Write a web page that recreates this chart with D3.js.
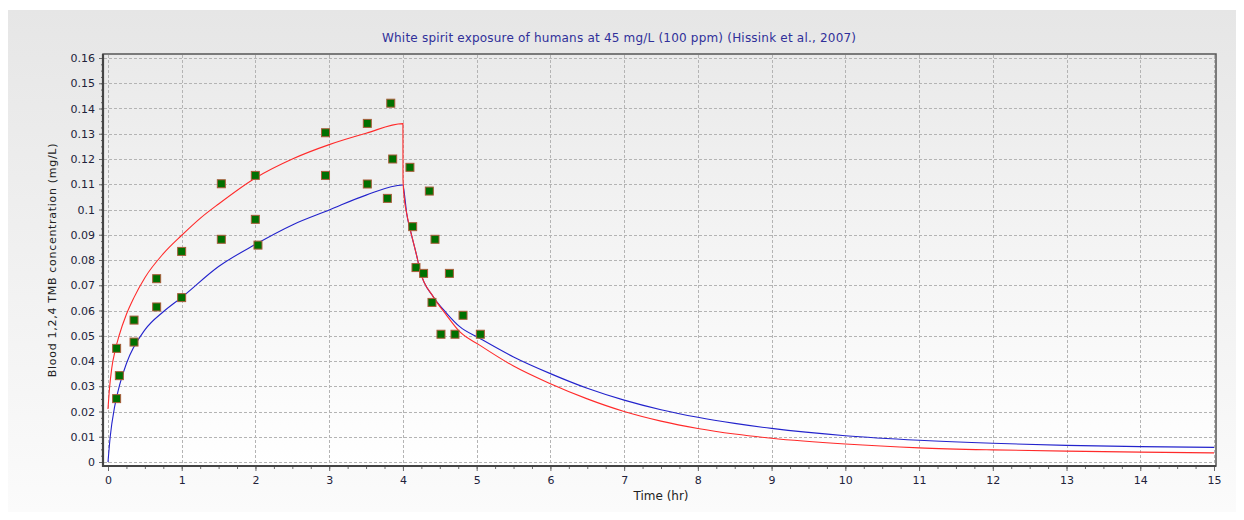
<!DOCTYPE html>
<html>
<head>
<meta charset="utf-8">
<script src="https://cdn.jsdelivr.net/npm/d3@7"></script>
<style>
  html, body { margin: 0; padding: 0; background: #ffffff; }
  svg { display: block; }
  text { font-family: "DejaVu Sans", Verdana, sans-serif; }
</style>
</head>
<body>
<svg id="chart" width="1244" height="520"></svg>
<script>
// ---------- data ----------
const titleText = "White spirit exposure of humans at 45 mg/L (100 ppm) (Hissink et al., 2007)";
const xAxisTitle = "Time (hr)";
const yAxisTitle = "Blood 1,2,4 TMB concentration (mg/L)";

const xTicks = [0,1,2,3,4,5,6,7,8,9,10,11,12,13,14,15];
const xTickLabels = ["0","1","2","3","4","5","6","7","8","9","10","11","12","13","14","15"];
const yTicks = [0,0.01,0.02,0.03,0.04,0.05,0.06,0.07,0.08,0.09,0.1,0.11,0.12,0.13,0.14,0.15,0.16];
const yTickLabels = ["0","0.01","0.02","0.03","0.04","0.05","0.06","0.07","0.08","0.09","0.1","0.11","0.12","0.13","0.14","0.15","0.16"];

// model curve (red)
const redTime = [0,0.02,0.05,0.1,0.15,0.25,0.35,0.5,0.75,1,1.25,1.5,2,2.5,3,3.5,4,
                 4.001,4.02,4.05,4.1,4.2,4.23,4.41,4.59,4.77,5.04,5.5,6,6.5,7,7.5,8,8.5,9,10,11,12,13,14,15];
const redConc = [0.021,0.029,0.037,0.0445,0.050,0.0585,0.065,0.073,0.0825,0.0898,0.0965,0.1022,0.1125,0.1200,0.1257,0.1302,0.134,
                 0.112,0.104,0.0986,0.0919,0.080,0.076,0.0655,0.0582,0.0516,0.0463,0.0380,0.0310,0.0250,0.0200,0.0162,0.0133,0.0111,0.0094,0.0071,0.0056,0.0048,0.0043,0.0039,0.0036];

// model curve (blue)
const blueTime = [0,0.03,0.09,0.14,0.25,0.5,0.75,1,1.5,2,2.5,3,3.5,4,
                  4.03,4.05,4.1,4.2,4.23,4.41,4.59,4.77,5.04,5.5,6,6.5,7,7.5,8,8.5,9,10,11,12,13,14,15];
const blueConc = [0,0.010,0.0219,0.0285,0.039,0.0523,0.0595,0.0652,0.0774,0.0862,0.0939,0.0998,0.1057,0.1097,
                  0.1037,0.0986,0.0919,0.080,0.076,0.0655,0.059,0.0536,0.049,0.0416,0.0350,0.0292,0.0245,0.0207,0.0177,0.0153,0.0133,0.0104,0.0086,0.0074,0.0066,0.0061,0.0058];

// observed data
const obsTime = [0.117,0.154,0.117,0.353,0.353,0.66,0.66,0.999,0.999,1.537,1.537,1.998,1.998,2.034,
                 2.95,2.95,3.517,3.517,3.835,3.789,3.861,4.095,4.358,4.132,4.435,4.177,4.28,4.63,4.394,4.815,4.516,4.706,5.05];
const obsConc = [0.045,0.0342,0.0251,0.0562,0.0475,0.0726,0.0614,0.0834,0.0651,0.1102,0.0882,0.1135,0.0961,0.0859,
                 0.1304,0.1135,0.1341,0.1101,0.1421,0.1044,0.120,0.1167,0.1073,0.0932,0.0882,0.077,0.0747,0.0747,0.0632,0.0581,0.0506,0.0506,0.0506];

// ---------- drawing ----------
const svg = d3.select("#chart");
const defs = svg.append("defs");

const g1 = defs.append("linearGradient").attr("id","outerBg").attr("x1",0).attr("y1",0).attr("x2",0).attr("y2",1);
g1.append("stop").attr("offset","0%").attr("stop-color","#e6e6e6");
g1.append("stop").attr("offset","100%").attr("stop-color","#fbfbfb");

const g2 = defs.append("linearGradient").attr("id","plotBg").attr("x1",0).attr("y1",0).attr("x2",0).attr("y2",1);
g2.append("stop").attr("offset","0%").attr("stop-color","#eaeaea");
g2.append("stop").attr("offset","100%").attr("stop-color","#ffffff");

const frame = {left:103, top:54, right:1216, bottom:466};

const x = d3.scaleLinear().domain([0,15]).range([108,1214]);
const y = d3.scaleLinear().domain([0,0.16]).range([462,58]);

svg.append("rect").attr("x",8).attr("y",10).attr("width",1228).attr("height",502).attr("fill","url(#outerBg)");
svg.append("rect").attr("x",frame.left).attr("y",frame.top)
   .attr("width",frame.right-frame.left).attr("height",frame.bottom-frame.top)
   .attr("fill","url(#plotBg)");

// grid
const grid = svg.append("g").attr("stroke","#b4b4b4").attr("stroke-width",1).attr("stroke-dasharray","3,2").attr("fill","none");
grid.selectAll("line.v").data(xTicks).join("line").attr("class","v")
  .attr("x1",d=>Math.round(x(d))+0.5).attr("x2",d=>Math.round(x(d))+0.5)
  .attr("y1",frame.top+1).attr("y2",frame.bottom-1);
grid.selectAll("line.h").data(yTicks).join("line").attr("class","h")
  .attr("y1",d=>Math.round(y(d))+0.5).attr("y2",d=>Math.round(y(d))+0.5)
  .attr("x1",frame.left+1).attr("x2",frame.right-1);

// axes
const tickColor = "#6a6a6a";
const labelColor = "#22223a";

const xMinor = d3.range(0, 15.0001, 0.25);
const xAxisMinor = svg.append("g").attr("transform",`translate(0,${frame.bottom})`)
  .call(d3.axisBottom(x).tickValues(xMinor).tickSize(3).tickFormat(""));
const xAxis = svg.append("g").attr("transform",`translate(0,${frame.bottom})`)
  .call(d3.axisBottom(x).tickValues(xTicks).tickSize(5).tickPadding(5)
        .tickFormat((d,i)=>xTickLabels[i]));
const yMinor = d3.range(0, 0.16001, 0.0025);
const yAxisMinor = svg.append("g").attr("transform",`translate(${frame.left},0)`)
  .call(d3.axisLeft(y).tickValues(yMinor).tickSize(2).tickFormat(""));
const yAxis = svg.append("g").attr("transform",`translate(${frame.left},0)`)
  .call(d3.axisLeft(y).tickValues(yTicks).tickSize(4).tickPadding(4)
        .tickFormat((d,i)=>yTickLabels[i]));

[xAxisMinor,xAxis,yAxisMinor,yAxis].forEach(a=>{
  a.select(".domain").remove();
  a.selectAll(".tick line").attr("stroke",tickColor);
  a.selectAll(".tick text").attr("fill",labelColor).style("font-size","11px")
    .style("font-family","'DejaVu Sans', Verdana, sans-serif");
});

// frame
svg.append("rect").attr("x",frame.left).attr("y",frame.top)
   .attr("width",frame.right-frame.left).attr("height",frame.bottom-frame.top)
   .attr("fill","none").attr("stroke","#555").attr("stroke-width",1.5);
svg.append("path")
   .attr("d",`M${frame.left},${frame.top} V${frame.bottom} H${frame.right}`)
   .attr("fill","none").attr("stroke","#444").attr("stroke-width",2.2);

// curves
const line = d3.line().x(d=>x(d[0])).y(d=>y(d[1])).curve(d3.curveMonotoneX);
const plot = svg.append("g");
plot.append("path").datum(d3.zip(blueTime, blueConc))
   .attr("d",line).attr("fill","none").attr("stroke","#2323cc").attr("stroke-width",1.1);
plot.append("path").datum(d3.zip(redTime, redConc))
   .attr("d",line).attr("fill","none").attr("stroke","#ff2a2a").attr("stroke-width",1.1);

// observations
const sz = 8;
plot.selectAll("rect.obs").data(d3.zip(obsTime, obsConc)).join("rect").attr("class","obs")
  .attr("x",d=>x(d[0])-sz/2).attr("y",d=>y(d[1])-sz/2)
  .attr("width",sz).attr("height",sz)
  .attr("fill","#007000").attr("stroke","#a85d3a").attr("stroke-width",1);

// titles
svg.append("text").attr("x",619).attr("y",42).attr("text-anchor","middle")
  .attr("fill","#30309a").style("font-size","12px")
  .attr("textLength",474).attr("lengthAdjust","spacing").text(titleText);
svg.append("text").attr("x",661).attr("y",500).attr("text-anchor","middle")
  .attr("fill","#222").style("font-size","12px").text(xAxisTitle);
svg.append("text").attr("transform",`translate(56,${(frame.top+frame.bottom)/2}) rotate(-90)`)
  .attr("text-anchor","middle").attr("fill","#222").style("font-size","11px")
  .style("letter-spacing","0.7px").text(yAxisTitle);
</script>
</body>
</html>
